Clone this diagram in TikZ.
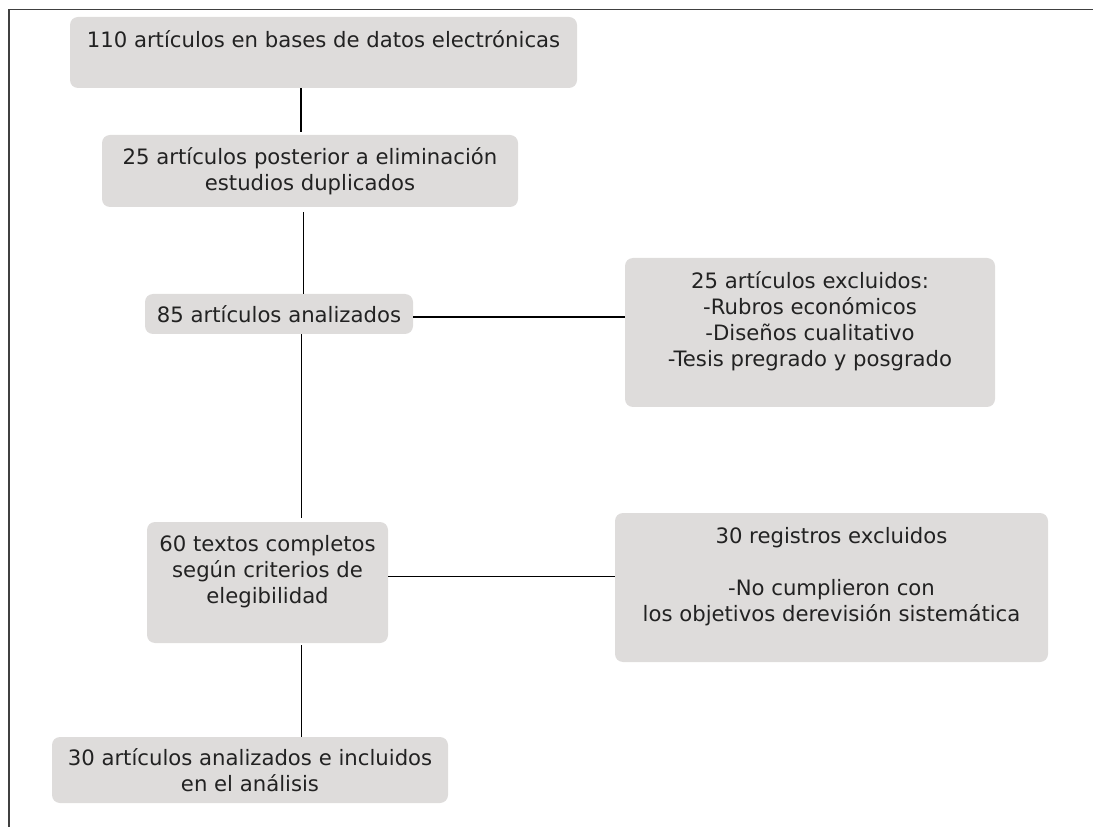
\documentclass[tikz,border=0pt]{standalone}
\usepackage{fontspec}
\setmainfont{DejaVu Sans}
\usepackage{tikz}

\definecolor{boxgray}{RGB}{222,220,219}
\definecolor{inkgray}{RGB}{34,34,34}

\begin{document}
\begin{tikzpicture}[x=0.75pt, y=-0.75pt,
  stage/.style={fill=boxgray, rounded corners=6pt, align=center, text=inkgray,
    inner sep=0pt, font=\fontsize{15.9pt}{19.5pt}\selectfont},
  link/.style={line width=0.85pt, black}]
  \useasboundingbox (0,0) rectangle (1093,827);

  % Frame (top and left only)
  \draw[line width=1.2pt, black!75] (1093,9.5) -- (9,9.5) -- (9,827);

  % Main column
  \node[stage, minimum width=380.25pt, minimum height=53.25pt] (b1) at (323.5,52.5)
    {110 artículos en bases de datos electrónicas\\ \mbox{}};
  \node[stage, minimum width=312pt, minimum height=54pt] (b2) at (310,171)
    {25 artículos posterior a eliminación\\estudios duplicados};
  \node[stage, minimum width=201pt, minimum height=30pt] (b3) at (279,314)
    {85 artículos analizados};
  \node[stage, minimum width=180.75pt, minimum height=90.75pt] (b5) at (267.5,582.5)
    {60 textos completos\\según criterios de\\elegibilidad\\ \mbox{}};
  \node[stage, minimum width=297pt, minimum height=49.5pt] (b7) at (250,770)
    {30 artículos analizados e incluidos\\en el análisis};

  % Exclusion boxes
  \node[stage, minimum width=277.5pt, minimum height=111.75pt] (b4) at (810,332.5)
    {25 artículos excluidos:\\-Rubros económicos\\-Diseños cualitativo\\-Tesis pregrado y posgrado\\ \mbox{}};
  \node[stage, minimum width=324.75pt, minimum height=111.75pt] (b6) at (831.5,587.5)
    {30 registros excluidos\\ \mbox{}\\-No cumplieron con\\los objetivos derevisión sistemática\\ \mbox{}};

  % Vertical connectors
  \coordinate (spineA) at (301,0);
  \coordinate (spineB) at (303.5,0);
  \coordinate (spineC) at (301.5,0);
  \draw[link] (b1.south -| spineA) -- ([yshift=2.25pt]b2.north -| spineA);
  \draw[link] ([yshift=-3.75pt]b2.south -| spineB) -- (b3.north -| spineB);
  \draw[link] (b3.south -| spineC) -- ([yshift=3pt]b5.north -| spineC);
  \draw[link] ([yshift=-1.5pt]b5.south -| spineC) -- (b7.north -| spineC);

  % Horizontal connectors
  \draw[link] ([yshift=-2.25pt]b3.east) -- ([yshift=-2.25pt]b3.east -| b4.west);
  \draw[link] ([yshift=4.5pt]b5.east) -- ([yshift=4.5pt]b5.east -| b6.west);
\end{tikzpicture}
\end{document}
